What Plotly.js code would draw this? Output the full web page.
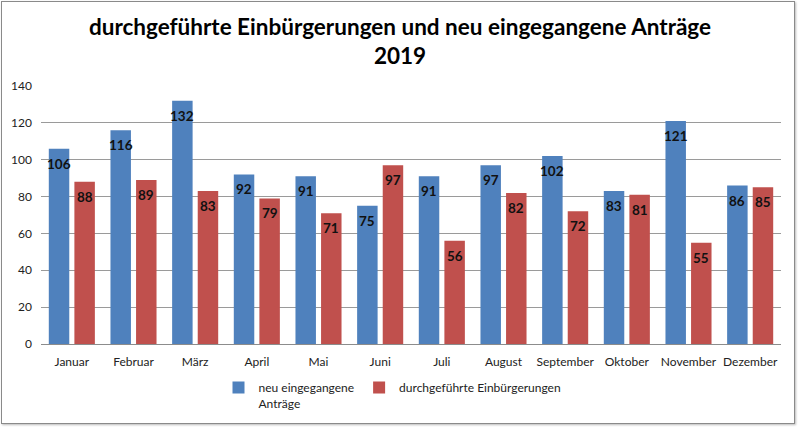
<!DOCTYPE html>
<html>
<head>
<meta charset="utf-8">
<script src="https://cdn.plot.ly/plotly-3.0.1.min.js"></script>
<style>
html,body{margin:0;padding:0;background:#fff;}
#frame{position:absolute;left:1px;top:1px;width:792px;height:421px;border:1px solid #8a8a8a;box-shadow:1px 1px 2px #bbb;}
#chart{position:absolute;left:0;top:0;width:800px;height:428px;}
</style>
</head>
<body>
<div id="frame"></div>
<div id="chart"></div>
<script>
const months = ["Januar","Februar","März","April","Mai","Juni","Juli","August","September","Oktober","November","Dezember"];
const neuAntraege = [106,116,132,92,91,75,91,97,102,83,121,86];
const durchgefuehrt = [88,89,83,79,71,97,56,82,72,81,55,85];
const seriesNames = ["neu eingegangene<br>Anträge","durchgeführte Einbürgerungen"];
const yTicks = [0,20,40,60,80,100,120,140];

const traces = [
  {type:'bar', x:months, y:neuAntraege, name:seriesNames[0], marker:{color:'#4F81BD'}, hoverinfo:'skip'},
  {type:'bar', x:months, y:durchgefuehrt, name:seriesNames[1], marker:{color:'#C0504D'}, hoverinfo:'skip'}
];

const annotations = [];
const series = [neuAntraege, durchgefuehrt];
series.forEach((vals, si) => {
  vals.forEach((v, i) => {
    annotations.push({
      x: months[i], y: v, xref:'x', yref:'y', text: String(v), showarrow:false,
      xshift: si === 0 ? -12.8 : 12.8, yshift: -15, yanchor:'middle',
      font:{family:'Lato, sans-serif', size:13.5, color:'#111', weight:'bold'}
    });
  });
});

const layout = {
  width:800, height:428,
  margin:{l:41, r:19, t:86, b:84, autoexpand:false},
  paper_bgcolor:'rgba(0,0,0,0)', plot_bgcolor:'rgba(0,0,0,0)',
  title:{text:'<b>durchgeführte Einbürgerungen und neu eingegangene Anträge<br>2019</b>',
    font:{family:'Lato, sans-serif', size:22.5, color:'#000'}, x:0.5, xanchor:'center', y:1-35/428, yanchor:'top'},
  barmode:'group', bargap:0.17, bargroupgap:0.2,
  xaxis:{type:'category', showline:true, linecolor:'#8c8c8c', linewidth:1, ticks:'', showgrid:false, automargin:false,
    ticklabelstandoff:7, tickfont:{family:'Lato, sans-serif', size:12, color:'#222'}},
  yaxis:{range:[0,140], tickvals:yTicks, showgrid:true, gridcolor:'#9a9a9a', gridwidth:1, zeroline:false, automargin:false,
    showline:false, ticks:'', ticklen:0, ticklabelstandoff:8, tickfont:{family:'Lato, sans-serif', size:12, color:'#222'}},
  showlegend:true,
  legend:{orientation:'h', x:0.475, xanchor:'center', y:-0.113, yanchor:'top',
    font:{family:'Lato, sans-serif', size:12, color:'#222'}, itemwidth:30, valign:'top'},
  annotations: annotations
};

Plotly.newPlot('chart', traces, layout, {displayModeBar:false, staticPlot:true});
</script>
</body>
</html>
